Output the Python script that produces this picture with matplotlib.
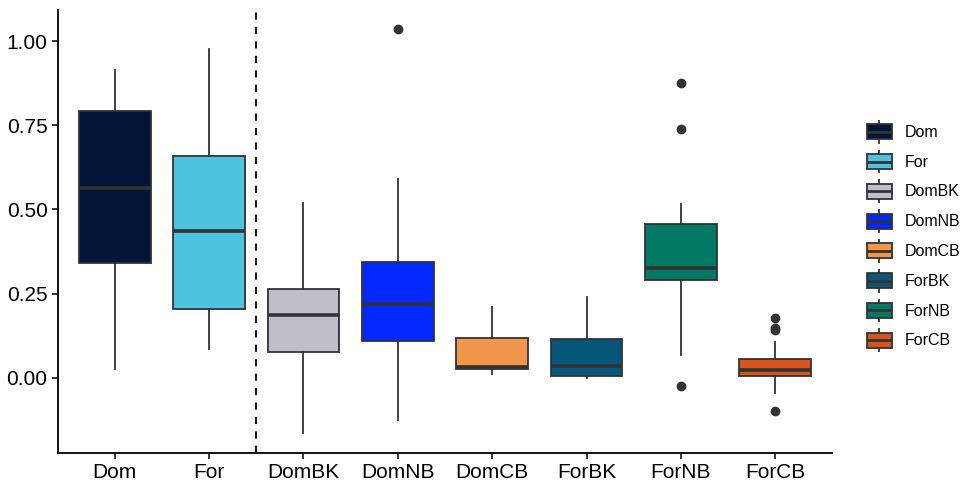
import matplotlib
matplotlib.use("Agg")
import matplotlib.pyplot as plt
from matplotlib.legend_handler import HandlerBase
from matplotlib.patches import Rectangle
from matplotlib.lines import Line2D

plt.rcParams['font.family'] = ['Liberation Sans', 'DejaVu Sans']

categories = ["Dom", "For", "DomBK", "DomNB", "DomCB", "ForBK", "ForNB", "ForCB"]
colors = ["#001538", "#4EC3E0", "#BEC0C8", "#0028FF", "#F1964A", "#07577A", "#007A64", "#D9541A"]
whislo = [0.027, 0.086, -0.163, -0.125, 0.012, 0.000, 0.068, -0.045]
q1 = [0.341, 0.205, 0.077, 0.110, 0.027, 0.006, 0.291, 0.006]
med = [0.564, 0.436, 0.187, 0.220, 0.033, 0.036, 0.326, 0.024]
q3 = [0.792, 0.659, 0.264, 0.344, 0.119, 0.116, 0.457, 0.056]
whishi = [0.914, 0.976, 0.519, 0.590, 0.211, 0.240, 0.516, 0.107]
fliers = [[], [], [], [1.036], [], [], [0.875, 0.739, -0.025], [0.178, 0.148, 0.142, -0.098]]
yticks = [0.0, 0.25, 0.5, 0.75, 1.0]
ytick_labels = ["0.00", "0.25", "0.50", "0.75", "1.00"]

edge = "#333333"

fig = plt.figure(figsize=(9.6, 4.84), dpi=100)
ax = fig.add_axes([58/960, 1-453/484, (832-58)/960, (453-10)/484])

stats = []
for i, c in enumerate(categories):
    stats.append(dict(label=c, whislo=whislo[i], q1=q1[i], med=med[i], q3=q3[i],
                      whishi=whishi[i], fliers=fliers[i]))

positions = list(range(1, len(categories) + 1))
bp = ax.bxp(stats, positions=positions, widths=0.76, patch_artist=True,
            showcaps=False,
            boxprops=dict(edgecolor=edge, linewidth=1.3),
            whiskerprops=dict(color=edge, linewidth=1.3),
            medianprops=dict(color=edge, linewidth=2.6, solid_capstyle="butt"),
            flierprops=dict(marker="o", markerfacecolor=edge, markeredgecolor=edge, markersize=6))
for patch, col in zip(bp["boxes"], colors):
    patch.set_facecolor(col)

ax.axvline(2.5, color="black", linestyle=(0, (4, 4)), linewidth=1.3)

ax.set_xlim(0.4, 8.6)
ax.set_ylim(-0.2226, 1.092)
ax.set_yticks(yticks)
ax.set_yticklabels(ytick_labels)
ax.set_xticks(positions)
ax.set_xticklabels(categories)
for s in ["top", "right"]:
    ax.spines[s].set_visible(False)
for s in ["left", "bottom"]:
    ax.spines[s].set_linewidth(1.3)
ax.tick_params(axis="both", labelsize=15, colors="black", length=4, width=1.1)

class BoxHandler(HandlerBase):
    def create_artists(self, legend, orig_handle, xdescent, ydescent, width, height, fontsize, trans):
        col = orig_handle.get_facecolor()
        w = width
        h = height
        x0 = -xdescent
        cx = x0 + w / 2
        y0 = -ydescent
        rect = Rectangle((x0, y0 + h * 0.2), w, h * 0.6, facecolor=col,
                         edgecolor=edge, linewidth=1.3, transform=trans)
        medl = Line2D([x0, x0 + w], [y0 + h / 2, y0 + h / 2], color=edge,
                      linewidth=2.0, solid_capstyle="butt", transform=trans)
        wt = Line2D([cx, cx], [y0 + h * 0.8, y0 + h * 0.98], color=edge, linewidth=1.3,
                    solid_capstyle="butt", transform=trans)
        wb = Line2D([cx, cx], [y0 + h * 0.02, y0 + h * 0.2], color=edge, linewidth=1.3,
                    solid_capstyle="butt", transform=trans)
        return [wt, wb, rect, medl]

handles = [Rectangle((0, 0), 1, 1, facecolor=c) for c in colors]
leg = fig.legend(handles, categories, handler_map={Rectangle: BoxHandler()},
                 loc="center left", bbox_to_anchor=(867/960, 1-236/484), frameon=False,
                 fontsize=11.5, handlelength=1.55, handleheight=2.0, labelspacing=0.32,
                 handletextpad=0.8, borderaxespad=0, borderpad=0)

fig.savefig("out.png", dpi=100)
